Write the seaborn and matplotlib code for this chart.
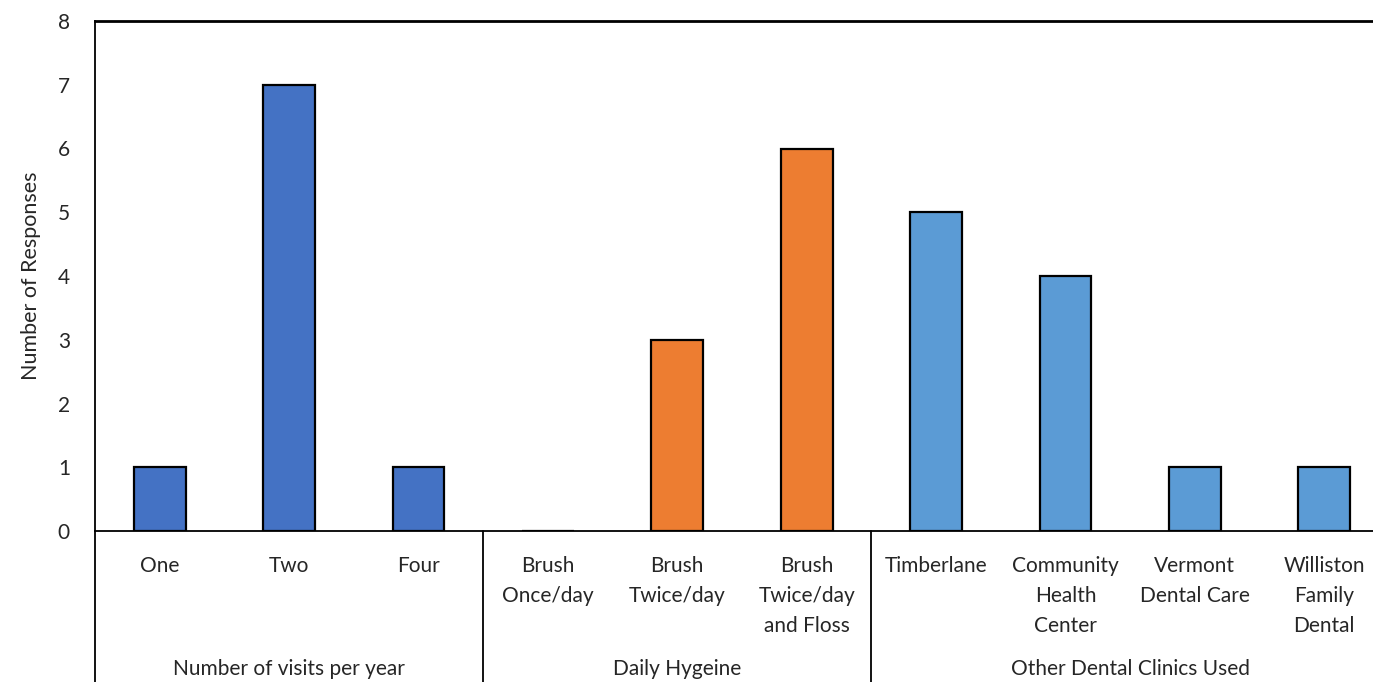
import matplotlib
matplotlib.use("Agg")
import matplotlib.pyplot as plt
import matplotlib.transforms as mtransforms
import seaborn as sns
import pandas as pd

# Survey responses
categories = ["One", "Two", "Four",
              "Brush\nOnce/day", "Brush\nTwice/day", "Brush\nTwice/day\nand Floss",
              "Timberlane", "Community\nHealth\nCenter", "Vermont\nDental Care",
              "Williston\nFamily\nDental"]
responses = [1, 7, 1, 0, 3, 6, 5, 4, 1, 1]
groups = ["Number of visits per year"] * 3 + ["Daily Hygeine"] * 3 + ["Other Dental Clinics Used"] * 4
group_names = ["Number of visits per year", "Daily Hygeine", "Other Dental Clinics Used"]
group_colors = ["#4472C4", "#ED7D31", "#5B9BD5"]
y_ticks = [0, 1, 2, 3, 4, 5, 6, 7, 8]

df = pd.DataFrame({"category": categories, "responses": responses, "group": groups})

sns.set_theme(style="white")
plt.rcParams["font.family"] = ["Lato", "DejaVu Sans"]

fig = plt.figure(figsize=(13.73, 6.82), dpi=100)
ax = fig.add_axes([95 / 1373, 151 / 682, (1389 - 95) / 1373, 510 / 682])

sns.barplot(data=df, x="category", y="responses", hue="group",
            palette=dict(zip(group_names, group_colors)), dodge=False,
            saturation=1, width=0.4, edgecolor="black", linewidth=1.6,
            legend=False, ax=ax)

text_color = "#262626"
ax.set_ylim(0, 8)
ax.set_yticks(y_ticks)
ax.set_xlim(-0.5, len(categories) - 0.5)
ax.tick_params(axis="y", length=0, pad=18, labelsize=15, labelcolor=text_color)
ax.tick_params(axis="x", length=0, pad=18, labelsize=15, labelcolor=text_color)
for lbl in ax.get_xticklabels():
    lbl.set_linespacing(1.62)
    lbl.set_verticalalignment("top")

ax.set_xlabel("")
ax.set_ylabel("Number of Responses", fontsize=15.5, color=text_color, labelpad=12)

for side in ["left", "top", "bottom"]:
    ax.spines[side].set_visible(True)
    ax.spines[side].set_color("black")
    ax.spines[side].set_linewidth(1.3)
ax.spines["top"].set_linewidth(2.0)
ax.spines["right"].set_visible(False)

# Group separators and labels below the axis
trans = mtransforms.blended_transform_factory(ax.transData, ax.transAxes)
bounds = [-0.5, 2.5, 5.5, 9.5]
for b in bounds[:-1]:
    ax.plot([b, b], [0, -0.31], transform=trans, color="black", lw=1.3, clip_on=False)
for i, name in enumerate(group_names):
    mid = (bounds[i] + bounds[i + 1]) / 2
    ax.text(mid, -138 / 510, name, transform=trans, ha="center", va="center",
            fontsize=15, color=text_color)

fig.savefig("out.png", dpi=100)
